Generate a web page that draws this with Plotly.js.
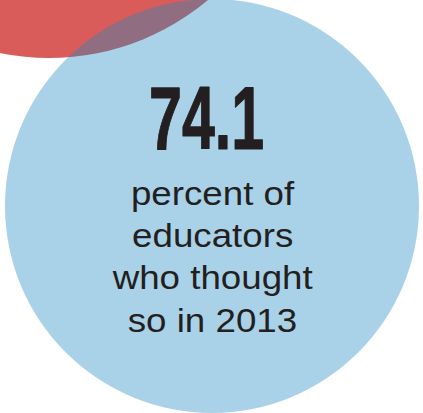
<!DOCTYPE html>
<html>
<head>
<meta charset="utf-8">
<script src="https://cdn.plot.ly/plotly-3.0.1.min.js"></script>
<style>
  html, body { margin: 0; padding: 0; background: #ffffff; }
  #chart { width: 423px; height: 413px; }
</style>
</head>
<body>
<div id="chart"></div>
<script>
// ---- data ----
const statValue = [74.1];
const statLabel = ["percent of", "educators", "who thought", "so in 2013"];
const circleNames = ["previous", "current"];

// ---- geometry / style (pixel-like data coordinates) ----
const W = 423, H = 413;
const circles = [
  { cx: 49, cy: -189, r: 247, fill: "#d95c5a" },
  { cx: 212, cy: 206, r: 207, fill: "rgba(29,137,195,0.38)" }
];

const shapes = circles.map(c => ({
  type: "circle", xref: "x", yref: "y",
  x0: c.cx - c.r, x1: c.cx + c.r, y0: c.cy - c.r, y1: c.cy + c.r,
  fillcolor: c.fill, line: { width: 0 }, layer: "below"
}));

const annotations = [];
annotations.push({
  x: 206.5, y: 117.5, xref: "x", yref: "y",
  text: statValue[0].toFixed(1), showarrow: false,
  xanchor: "center", yanchor: "middle",
  font: { family: "Liberation Sans Narrow, Arial Narrow, sans-serif", size: 89, weight: 700, color: "#231f20" }
});
const firstBaseline = 205, lineStep = 42.3, labelSize = 34;
statLabel.forEach((t, i) => {
  annotations.push({
    x: 212.5, y: firstBaseline + i * lineStep - 0.358 * labelSize, xref: "x", yref: "y",
    text: t, showarrow: false, xanchor: "center", yanchor: "middle",
    font: { family: "Liberation Sans, Arial, Helvetica, sans-serif", size: labelSize, color: "#231f20" }
  });
});

const layout = {
  width: W, height: H,
  margin: { l: 0, r: 0, t: 0, b: 0, pad: 0 },
  paper_bgcolor: "#ffffff", plot_bgcolor: "#ffffff",
  showlegend: false,
  xaxis: { range: [0, W], visible: false, fixedrange: true },
  yaxis: { range: [H, 0], visible: false, fixedrange: true },
  shapes: shapes,
  annotations: annotations
};

const trace = {
  type: "scatter", mode: "markers",
  x: circles.map(c => c.cx), y: circles.map(c => c.cy),
  text: circleNames, hoverinfo: "text",
  marker: { size: 1, opacity: 0 }
};

Plotly.newPlot("chart", [trace], layout, { displayModeBar: false, staticPlot: true }).then(() => {
  const texts = document.querySelectorAll("#chart .annotation-text");
  texts.forEach((el, i) => {
    const sx = i === 0 ? 0.665 : 1.08;
    el.style.transformBox = "fill-box";
    el.style.transformOrigin = "center";
    el.style.transform = "scaleX(" + sx + ")";
    if (i === 0) {
      el.style.stroke = "#231f20";
      el.style.strokeWidth = "1.2px";
      el.style.strokeLinejoin = "round";
    }
  });
});
</script>
</body>
</html>
